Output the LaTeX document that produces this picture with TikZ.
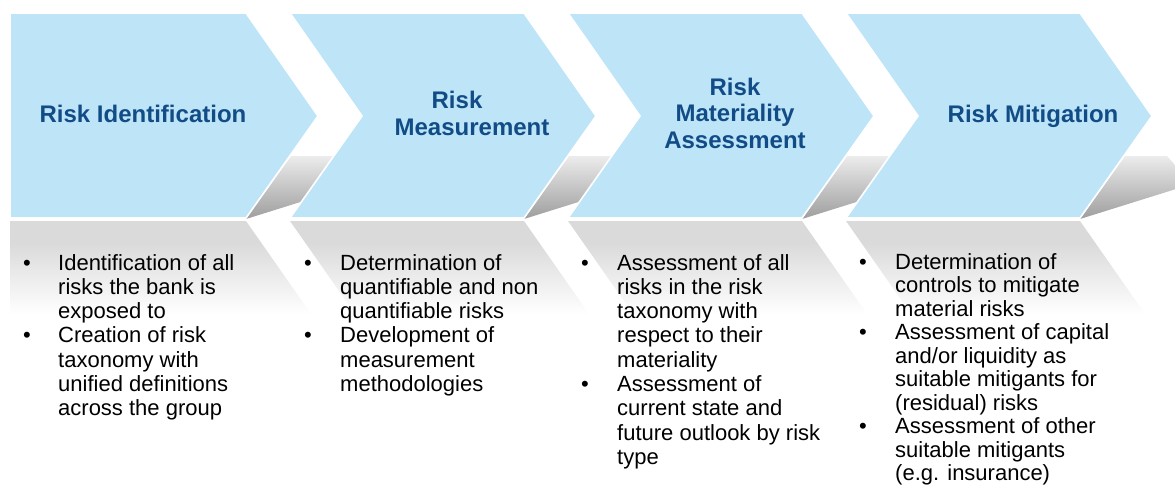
\documentclass[tikz,border=0pt]{standalone}
\usepackage{fontspec}
\setmainfont{Liberation Sans}
\usepackage{array}
\definecolor{chev}{RGB}{190,228,248}
\definecolor{ttl}{RGB}{18,76,134}
\definecolor{refl}{RGB}{218,218,218}
\definecolor{shtop}{RGB}{236,236,236}
\definecolor{shbot}{RGB}{158,158,158}
\pgfdeclareverticalshading{reflfade}{100bp}{color(0bp)=(white); color(25bp)=(white); color(36bp)=(white); color(66bp)=(refl); color(75bp)=(refl); color(100bp)=(refl)}
\begin{document}
\begin{tikzpicture}[x=1pt,y=-1pt,
  chevron/.style={fill=chev, draw=white, line width=1.6pt, line join=miter},
  reflection/.style={shading=reflfade, draw=none},
  shadowshape/.style={top color=shtop, bottom color=shbot, draw=none},
  title/.style={text=ttl, font=\fontsize{24}{26.5}\selectfont\bfseries, align=center, inner sep=0pt},
  body/.style={font=\fontsize{22}{24.3}\selectfont, anchor=base west, inner sep=0pt, text=black}]
\useasboundingbox (0,0) rectangle (1175,492);
% reflections
\shade[reflection] (10,221) -- (246,221) -- (330,341) -- (10,341) -- cycle;
\foreach \L/\R in {290/524, 568/802, 846/1080}{
  \shade[reflection] (\L,221) -- (\R,221) -- (\R+84,341) -- (\L+84,341) -- cycle;
}
% shadows
\foreach \rx in {246,524,802,1080}{
  \shade[shadowshape] (\rx,219) -- (\rx+45,156) -- (\rx+87,156) -- (\rx+112,184) -- cycle;
}
% chevrons
\draw[chevron] (10,13) -- (246,13) -- (318,116) -- (246,218) -- (10,218) -- cycle;
\foreach \L/\R in {290/524, 568/802, 846/1080}{
  \draw[chevron] (\L,13) -- (\R,13) -- (\R+72,116) -- (\R,218) -- (\L,218) -- (\L+72,116) -- cycle;
}
% titles
\node[title, anchor=base] (t1) at (143,123) {Risk Identification};
\node[title] (t2) at (472,113.5) {Risk\rule{30pt}{0pt}\\Measurement};
\node[title] (t3) at (735,113) {Risk\\Materiality\\Assessment};
\node[title, anchor=base] (t4) at (1033,123) {Risk Mitigation};
% bodies
\node[body] (b1) at (23,270) {\begin{tabular}[t]{@{}p{35pt}@{}l@{}}
\textbullet & Identification of all\\
 & risks the bank is\\
 & exposed to\\
\textbullet & Creation of risk\\
 & taxonomy with\\
 & unified definitions\\
 & across the group
\end{tabular}};
\node[body] (b2) at (304,270) {\begin{tabular}[t]{@{}p{36pt}@{}l@{}}
\textbullet & Determination of\\
 & quantifiable and non\\
 & quantifiable risks\\
\textbullet & Development of\\
 & measurement\\
 & methodologies
\end{tabular}};
\node[body] (b3) at (581,270) {\begin{tabular}[t]{@{}p{36pt}@{}l@{}}
\textbullet & Assessment of all\\
 & risks in the risk\\
 & taxonomy with\\
 & respect to their\\
 & materiality\\
\textbullet & Assessment of\\
 & current state and\\
 & future outlook by risk\\
 & type
\end{tabular}};
\node[body, font=\fontsize{22}{23.5}\selectfont] (b4) at (859,269) {\begin{tabular}[t]{@{}p{36pt}@{}l@{}}
\textbullet & Determination of\\
 & controls to mitigate\\
 & material risks\\
\textbullet & Assessment of capital\\
 & and/or liquidity as\\
 & suitable mitigants for\\
 & (residual) risks\\
\textbullet & Assessment of other\\
 & suitable mitigants\\
 & (e.g. insurance)
\end{tabular}};
\end{tikzpicture}
\end{document}
